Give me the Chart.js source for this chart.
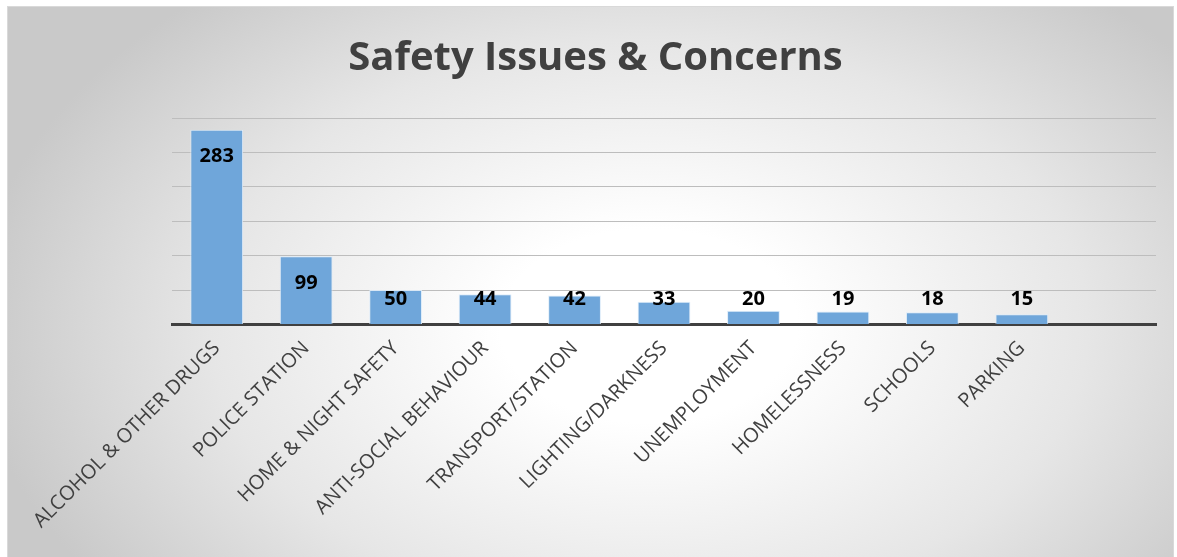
<!DOCTYPE html>
<html>
<head>
<meta charset="utf-8">
<script src="https://cdn.jsdelivr.net/npm/chart.js@4/dist/chart.umd.min.js"></script>
<style>
  html, body { margin: 0; padding: 0; background: #ffffff; }
  #frame {
    position: absolute; left: 7px; top: 6px; width: 1167px; height: 551px;
    border-top: 1px solid #d9d9d9; border-left: 1px solid #d9d9d9; border-right: 1px solid #d9d9d9;
    box-sizing: border-box;
    background: radial-gradient(ellipse 58% 80% at 55% 58%, #ffffff 0%, #ffffff 22%, #e6e6e6 65%, #c9c9c9 100%);
  }
  #wrap { position: absolute; left: 0; top: 0; width: 1177px; height: 557px; }
</style>
</head>
<body>
<div id="frame"></div>
<div id="wrap"><canvas id="c" width="1177" height="557"></canvas></div>
<script>
const titleText = "Safety Issues & Concerns";
const categories = [
  "ALCOHOL & OTHER DRUGS", "POLICE STATION", "HOME & NIGHT SAFETY",
  "ANTI-SOCIAL BEHAVIOUR", "TRANSPORT/STATION", "LIGHTING/DARKNESS",
  "UNEMPLOYMENT", "HOMELESSNESS", "SCHOOLS", "PARKING", ""
];
const counts = [283, 99, 50, 44, 42, 33, 20, 19, 18, 15, null];
const yMax = 300;
const yStep = 50;

const dataLabelPlugin = {
  id: 'dataLabels',
  afterDatasetsDraw(chart) {
    const ctx = chart.ctx;
    const meta = chart.getDatasetMeta(0);
    ctx.save();
    ctx.font = 'bold 20px "Open Sans"';
    ctx.fillStyle = '#000000';
    ctx.textAlign = 'center';
    ctx.textBaseline = 'middle';
    meta.data.forEach((bar, i) => {
      const v = counts[i];
      if (v === null || v === undefined) return;
      const y = Math.min(bar.y + 27, bar.base - 25);
      ctx.fillText(String(v), bar.x, y);
    });
    ctx.restore();
  }
};

new Chart(document.getElementById('c'), {
  type: 'bar',
  data: {
    labels: categories,
    datasets: [{
      data: counts,
      backgroundColor: '#6fa6da',
      borderColor: 'rgba(220,235,250,0.9)',
      borderWidth: 1,
      barPercentage: 0.59,
      categoryPercentage: 1.0
    }]
  },
  options: {
    responsive: false,
    animation: false,
    layout: { padding: { left: 35, right: 21, top: 0, bottom: 20 } },
    plugins: {
      legend: { display: false },
      tooltip: { enabled: false },
      title: {
        display: true,
        text: titleText,
        color: '#404040',
        font: { family: '"Open Sans"', size: 40, weight: 'bold', lineHeight: 1.2 },
        padding: { top: 35, bottom: 35 }
      }
    },
    scales: {
      x: {
        grid: { display: false },
        border: { display: true, color: '#404040', width: 3 },
        ticks: {
          color: '#404040',
          font: { family: '"Open Sans"', size: 20 },
          minRotation: 45, maxRotation: 45, autoSkip: false, padding: 4
        }
      },
      y: {
        min: 0, max: yMax,
        afterFit(scale) { scale.width = 137; },
        ticks: { display: false, stepSize: yStep },
        grid: { color: '#bdbdbd', lineWidth: 1, drawTicks: false },
        border: { display: false }
      }
    }
  },
  plugins: [dataLabelPlugin]
});
</script>
</body>
</html>
